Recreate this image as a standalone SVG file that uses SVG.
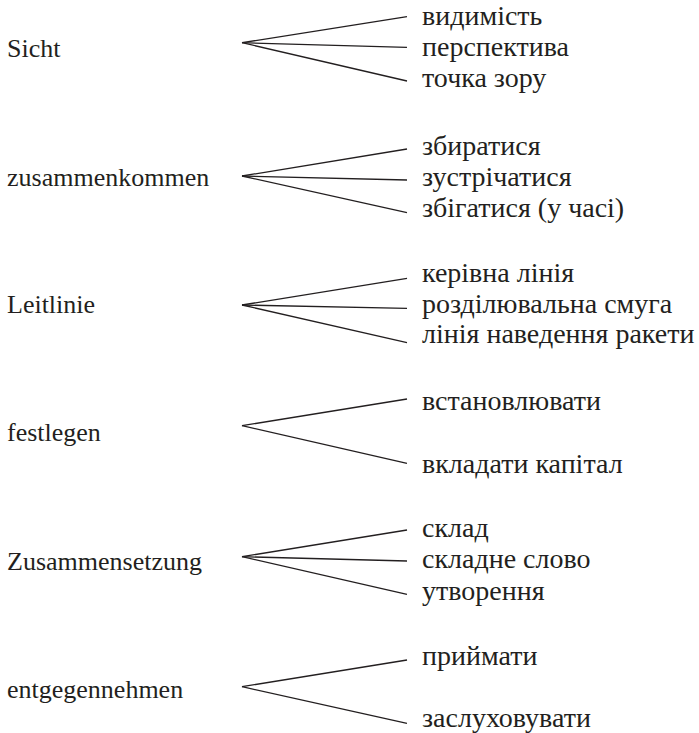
<svg xmlns="http://www.w3.org/2000/svg" width="699" height="733" viewBox="0 0 699 733" font-family="'Liberation Serif', 'DejaVu Serif', serif" font-size="26">
<style>
text{font-family:'Liberation Serif','DejaVu Serif',serif;font-size:26px;fill:#231f20}
text.uk{font-size:28px}
.c line{stroke:#231f20;stroke-width:1.3;fill:none}
</style>
<rect width="699" height="733" fill="#fff"/>
<g class="c" id="connectors">
<line x1="242" y1="42.7" x2="407" y2="16.7"/>
<line x1="242" y1="42.7" x2="407" y2="47.3"/>
<line x1="242" y1="42.7" x2="407" y2="81"/>
<line x1="242" y1="176" x2="407" y2="149"/>
<line x1="242" y1="176" x2="407" y2="180"/>
<line x1="242" y1="176" x2="407" y2="212.7"/>
<line x1="242" y1="305" x2="407" y2="278.3"/>
<line x1="242" y1="305" x2="407" y2="308.3"/>
<line x1="242" y1="305" x2="407" y2="342.7"/>
<line x1="242" y1="425.7" x2="407" y2="399"/>
<line x1="242" y1="425.7" x2="407" y2="463.3"/>
<line x1="242" y1="556.7" x2="407" y2="530"/>
<line x1="242" y1="556.7" x2="407" y2="561"/>
<line x1="242" y1="556.7" x2="407" y2="594.3"/>
<line x1="242" y1="686.7" x2="407" y2="660"/>
<line x1="242" y1="686.7" x2="407" y2="723.3"/>
</g>
<g id="n-sicht"><text x="7" y="57">Sicht</text></g>
<g id="n-sicht-1"><text class="uk" x="422" y="25">видимість</text></g>
<g id="n-sicht-2"><text class="uk" x="422" y="56">перспектива</text></g>
<g id="n-sicht-3"><text class="uk" x="422" y="87">точка зору</text></g>
<g id="n-zus"><text x="7" y="186">zusammenkommen</text></g>
<g id="n-zus-1"><text class="uk" x="422" y="155">збиратися</text></g>
<g id="n-zus-2"><text class="uk" x="422" y="186">зустрічатися</text></g>
<g id="n-zus-3"><text class="uk" x="422" y="217">збігатися (у часі)</text></g>
<g id="n-leit"><text x="7" y="313">Leitlinie</text></g>
<g id="n-leit-1"><text class="uk" x="422" y="282">керівна лінія</text></g>
<g id="n-leit-2"><text class="uk" x="422" y="313">розділювальна смуга</text></g>
<g id="n-leit-3"><text class="uk" x="422" y="343">лінія наведення ракети</text></g>
<g id="n-fest"><text x="7" y="441">festlegen</text></g>
<g id="n-fest-1"><text class="uk" x="422" y="410">встановлювати</text></g>
<g id="n-fest-2"><text class="uk" x="422" y="473">вкладати капітал</text></g>
<g id="n-zset"><text x="7" y="570">Zusammensetzung</text></g>
<g id="n-zset-1"><text class="uk" x="422" y="537">склад</text></g>
<g id="n-zset-2"><text class="uk" x="422" y="568">складне слово</text></g>
<g id="n-zset-3"><text class="uk" x="422" y="600">утворення</text></g>
<g id="n-entg"><text x="7" y="698">entgegennehmen</text></g>
<g id="n-entg-1"><text class="uk" x="422" y="665">приймати</text></g>
<g id="n-entg-2"><text class="uk" x="422" y="727">заслуховувати</text></g>
</svg>
